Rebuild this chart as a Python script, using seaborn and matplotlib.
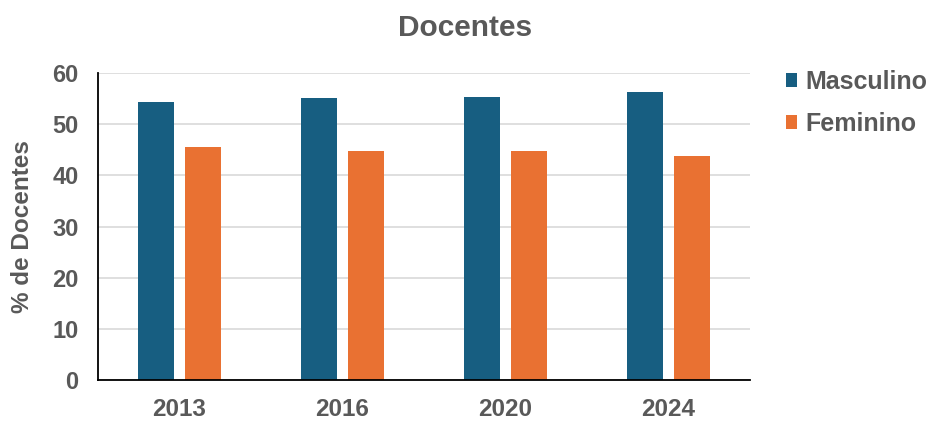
import matplotlib
matplotlib.use("Agg")
import matplotlib.pyplot as plt
import seaborn as sns
import pandas as pd

years = ["2013", "2016", "2020", "2024"]
masculino = [54.4, 55.2, 55.3, 56.2]
feminino = [45.6, 44.8, 44.7, 43.8]
series_names = ["Masculino", "Feminino"]
colors = ["#175E81", "#E97132"]

df = pd.DataFrame({
    "Ano": years * 2,
    "Valor": masculino + feminino,
    "Sexo": [series_names[0]] * len(years) + [series_names[1]] * len(years),
})

sns.set_theme(style="white")
plt.rcParams["font.family"] = ["Liberation Sans", "DejaVu Sans"]
grey = "#595959"

fig = plt.figure(figsize=(9.3, 4.21), dpi=100)
ax = fig.add_axes([98 / 930, 1 - 380 / 421, 652 / 930, 307 / 421])

sns.barplot(data=df, x="Ano", y="Valor", hue="Sexo", palette=colors,
            width=0.58, gap=0.23, ax=ax, saturation=1, legend=True,
            linewidth=0)

ax.set_ylim(0, 60)
ax.set_xlim(-0.5, 3.5)
ax.set_yticks(range(0, 61, 10))
ax.yaxis.grid(True, color="#D9D9D9", linewidth=1.2)
ax.set_axisbelow(True)
for s in ["top", "right"]:
    ax.spines[s].set_visible(False)
ax.spines["left"].set_color("black")
ax.spines["bottom"].set_color("black")
ax.spines["left"].set_linewidth(1.3)
ax.spines["bottom"].set_linewidth(1.3)

ax.tick_params(axis="y", length=0, labelsize=17, labelcolor=grey, pad=14)
ax.tick_params(axis="x", length=0, labelsize=17.5, labelcolor=grey, pad=13)
for lab in ax.get_xticklabels() + ax.get_yticklabels():
    lab.set_fontweight("bold")

ax.set_xlabel("")
ax.set_ylabel("% de Docentes", fontsize=17.5, fontweight="bold", color=grey)
ax.yaxis.set_label_coords(-0.098, 0.5)
fig.text(0.5, 1 - 28 / 421, "Docentes", ha="center", va="center",
         fontsize=21.5, fontweight="bold", color=grey)

leg = ax.legend(loc="upper left", bbox_to_anchor=(1.055, 1.0095), frameon=False,
                fontsize=18, handlelength=0.45, handleheight=0.45,
                handletextpad=0.32, labelspacing=0.72,
                borderpad=0, borderaxespad=0)
for t in leg.get_texts():
    t.set_color(grey)
    t.set_fontweight("bold")

fig.savefig("out.png", dpi=100)
